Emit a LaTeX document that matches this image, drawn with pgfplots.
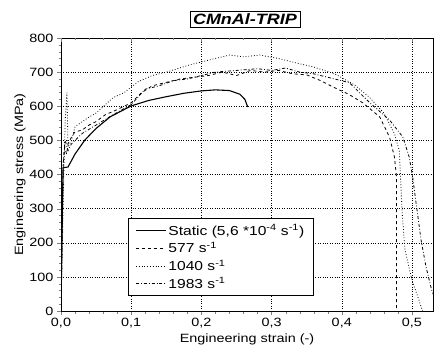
\documentclass[border=0pt]{standalone}
\usepackage{pgfplots}
\pgfplotsset{compat=1.18}
\usepackage{fontspec}
\setmainfont[FakeStretch=1.2]{Liberation Sans}
\begin{document}
\begin{tikzpicture}[x=1pt,y=1pt]
\begin{axis}[
  scale only axis, width=372pt, height=273pt,
  xmin=0, xmax=0.53, ymin=0, ymax=800,
  xtick={0,0.1,...,0.5}, ytick={0,100,...,800},
  minor x tick num=4, minor y tick num=4,
  xtick pos=left, ytick pos=left, tick align=outside,
  major tick length=4pt, minor tick length=2.5pt,
  grid=major, major grid style={black, dotted, line width=0.5pt},
  /pgf/number format/assume math mode=true,
  xticklabel style={/pgf/number format/.cd, use comma, fixed, precision=1, fixed zerofill},
  yticklabel style={/pgf/number format/.cd, fixed, precision=0},
  tick label style={font=\fontsize{12}{14}\selectfont},
  label style={font=\fontsize{12}{14}\selectfont},
  xlabel={Engineering strain (-)}, ylabel={Engineering stress (MPa)},
  xlabel style={yshift=2pt}, ylabel style={yshift=-3pt},
  axis line style={line width=0.8pt},
  legend style={at={(rel axis cs:0.18,0.055)}, anchor=south west, draw=black, line width=0.8pt,
     font=\fontsize{13}{15}\selectfont, row sep=1.5pt, inner xsep=7pt, inner ysep=4pt, legend cell align=left},
  legend image code/.code={\draw[#1] (0pt,0pt) -- (30pt,0pt);},
]
\addplot[black, line width=1.1pt] coordinates {
(0,0)(0.002,300)(0.003,420)(0.01,422)(0.02,460)(0.034,501)(0.05,535)(0.07,569)(0.1,601)(0.125,617)(0.15,628)(0.175,638)(0.2,645)(0.22,648)(0.24,646)(0.255,635)(0.262,620)(0.266,598)};
\addlegendentry{Static (5,6 *10\textsuperscript{-4} s\textsuperscript{-1})}
\addplot[black, line width=0.8pt, dashed] coordinates {
(0,0)(0.003,420)(0.005,480)(0.008,460)(0.01,490)(0.015,510)(0.02,525)(0.03,530)(0.04,545)(0.05,555)(0.063,575)(0.08,590)(0.1,610)(0.115,640)(0.13,660)(0.15,670)(0.17,680)(0.19,685)(0.21,690)(0.23,700)(0.25,690)(0.27,705)(0.29,700)(0.31,705)(0.33,695)(0.35,692)(0.37,675)(0.387,657)(0.41,635)(0.43,610)(0.454,569)(0.468,510)(0.475,452)(0.478,393)(0.478,0)};
\addlegendentry{577 s\textsuperscript{-1}}
\addplot[black, line width=0.8pt, dotted] coordinates {
(0,0)(0.004,400)(0.006,560)(0.0085,640)(0.01,480)(0.015,500)(0.02,540)(0.038,566)(0.05,580)(0.074,625)(0.09,640)(0.11,672)(0.13,690)(0.15,700)(0.183,721)(0.21,735)(0.24,750)(0.26,745)(0.283,750)(0.31,740)(0.335,727)(0.36,715)(0.39,695)(0.418,663)(0.44,625)(0.46,580)(0.475,520)(0.482,470)(0.484,380)(0.486,290)(0.49,180)(0.5,91)(0.51,32)(0.515,0)};
\addlegendentry{1040 s\textsuperscript{-1}}
\addplot[black, line width=0.8pt, dashdotted] coordinates {
(0,0)(0.003,430)(0.006,500)(0.01,470)(0.015,490)(0.02,500)(0.03,520)(0.05,545)(0.07,570)(0.1,605)(0.12,650)(0.14,660)(0.16,675)(0.18,680)(0.2,690)(0.22,700)(0.25,705)(0.28,710)(0.3,705)(0.32,712)(0.34,700)(0.36,695)(0.38,685)(0.411,669)(0.44,610)(0.468,560)(0.487,510)(0.496,452)(0.501,393)(0.505,330)(0.513,208)(0.52,130)(0.528,62)(0.532,40)};
\addlegendentry{1983 s\textsuperscript{-1}}
\end{axis}
\begin{axis}[
  scale only axis, width=372pt, height=273pt,
  xmin=0, xmax=0.53, ymin=0, ymax=800,
  xtick={0,0.1,...,0.5}, minor x tick num=4,
  xtick pos=right, tick align=inside, xticklabels={},
  major tick length=4pt, minor tick length=2.5pt,
  ytick=\empty, axis line style={draw=none},
]
\end{axis}
\node[draw=black, line width=0.8pt, inner xsep=3pt, inner ysep=2.5pt, font=\fontsize{15}{17}\selectfont\bfseries\itshape, anchor=center] at ([xshift=-2pt,yshift=18.5pt]current axis.north) {CMnAl-TRIP};
\pgfresetboundingbox
\path ([shift={(-61pt,-42pt)}]current axis.south west) rectangle ([shift={(2pt,38pt)}]current axis.north east);
\end{tikzpicture}
\end{document}
